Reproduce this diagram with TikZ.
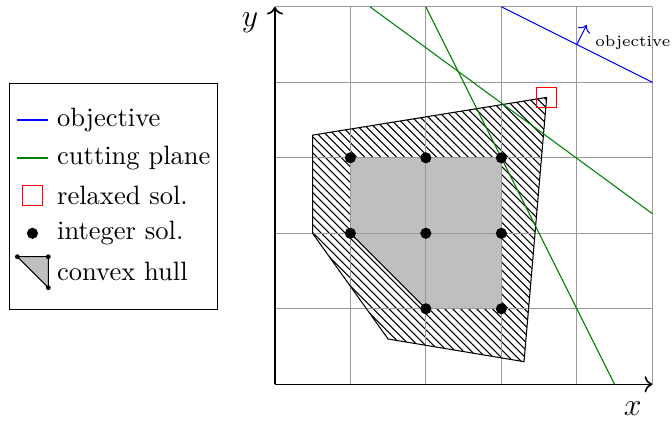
\documentclass[tikz,border=0pt]{standalone}
\usepackage{amsmath,amssymb}
\usepackage{tikz}
\usepackage{xcolor}
\usetikzlibrary{arrows.meta,positioning,patterns}
\definecolor{cObj}{HTML}{0000ff}
\definecolor{cCut}{HTML}{008000}
\definecolor{cRel}{HTML}{ff0000}
\definecolor{cHull}{HTML}{bfbfbf}

\begin{document}
\begin{tikzpicture}[scale=1,
    intpt/.style={circle,fill=black,inner sep=0pt,minimum size=4.2pt},
    hullpt/.style={circle,fill=black,inner sep=0pt,minimum size=1.8pt},
    relbox/.style={draw=cRel,inner sep=0pt,minimum size=0.26cm},
    legtxt/.style={anchor=west,inner sep=0pt}]
  \useasboundingbox (-3.64,-0.49) rectangle (5.26,5.09);
  % relaxation (hatched) and integer hull (gray)
  \fill[pattern=north west lines] (0.5,3.3) -- (3.6,3.8) -- (3.3,0.3) -- (1.5,0.6) -- (0.5,2) -- cycle;
  \fill[cHull] (1,3) -- (3,3) -- (3,1) -- (2,1) -- (1,2) -- cycle;
  \draw[gray!80] (0,0) grid (5,5);
  \draw (1,2) -- (2,1);
  \draw (0.5,3.3) -- (3.6,3.8) -- (3.3,0.3) -- (1.5,0.6) -- (0.5,2) -- cycle;
  % axes
  \coordinate (o) at (0,0);
  \coordinate (xe) at (5,0);
  \coordinate (ye) at (0,5);
  \draw[->,semithick] (o) -- (xe);
  \draw[->,semithick] (o) -- (ye);
  \node (xl) at (4.74,-0.32){\large $x$};
  \node (yl) at (-0.33,4.79){\large $y$};
  % objective and cuts
  \coordinate (ob1) at (3,5);
  \coordinate (ob2) at (5,4);
  \coordinate (obm) at (4,4.5);
  \coordinate (obd) at (4.13,4.76);
  \draw[cObj] (ob1) -- (ob2);
  \draw[cObj,->] (obm) -- (obd);
  \node[anchor=east,inner sep=0pt,font=\fontsize{5.9}{7}\selectfont] (obl) at (5.245,4.52){objective};
  \coordinate (ca1) at (1.26,5);
  \coordinate (ca2) at (5,2.26);
  \coordinate (cb1) at (2,5);
  \coordinate (cb2) at (4.5,0);
  \draw[cCut] (ca1) -- (ca2);
  \draw[cCut] (cb1) -- (cb2);
  % solutions
  \node[relbox] (rel) at (3.6,3.8){};
  \foreach \p [count=\i] in {(1,3),(2,3),(3,3),(1,2),(2,2),(3,2),(2,1),(3,1)}{
     \node[intpt] (z\i) at \p{};
  }
  % legend
  \draw (-3.52,0.99) rectangle (-0.755,3.99);
  \coordinate (lo1) at (-3.42,3.5);
  \coordinate (lo2) at (-3.0,3.5);
  \draw[cObj,semithick] (lo1) -- (lo2);
  \coordinate (lc1) at (-3.42,3);
  \coordinate (lc2) at (-3.0,3);
  \draw[cCut,semithick] (lc1) -- (lc2);
  \node[relbox] (lr) at (-3.21,2.5){};
  \node[intpt] (li) at (-3.21,2){};
  \coordinate (lh1) at (-3.41,1.69);
  \coordinate (lh2) at (-3.0,1.69);
  \coordinate (lh3) at (-3.0,1.28);
  \filldraw[fill=cHull] (lh1) -- (lh2) -- (lh3) -- cycle;
  \foreach \i in {1,2,3}{\node[hullpt] (lhp\i) at (lh\i){};}
  \node[legtxt] (t1) at (-2.89,3.5){objective};
  \node[legtxt] (t2) at (-2.89,3){cutting plane};
  \node[legtxt] (t3) at (-2.89,2.5){relaxed sol.};
  \node[legtxt] (t4) at (-2.89,2){integer sol.};
  \node[legtxt] (t5) at (-2.89,1.5){convex hull};
\end{tikzpicture}
\end{document}
